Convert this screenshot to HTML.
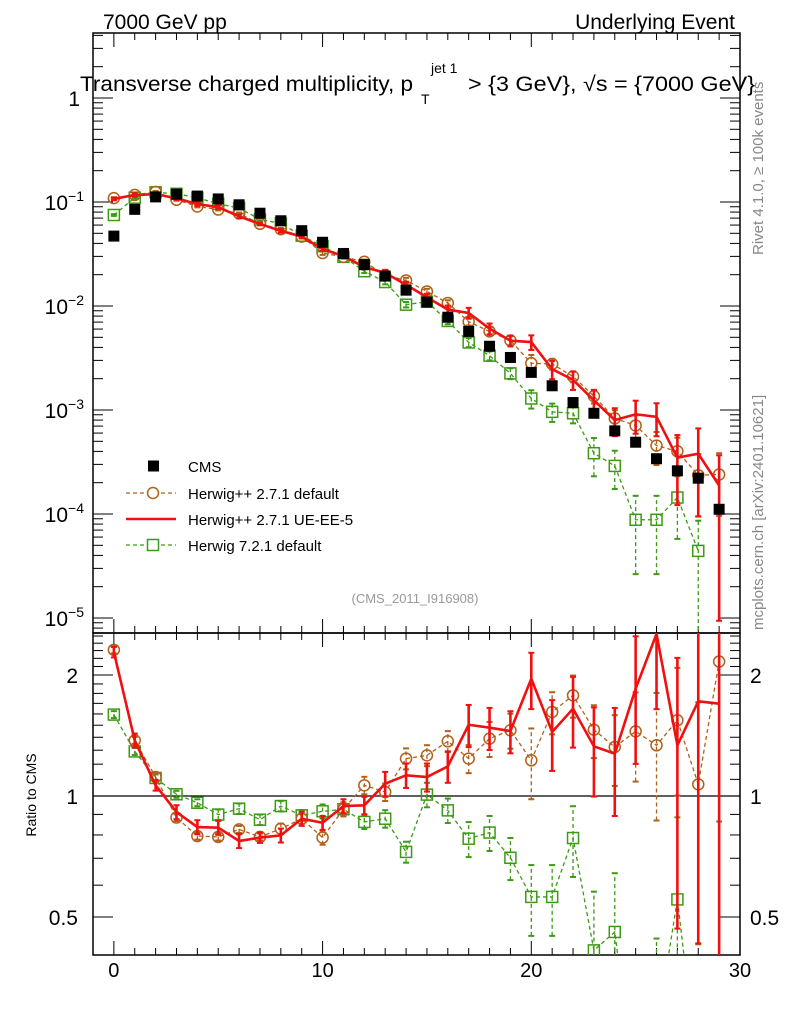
<!DOCTYPE html>
<html><head><meta charset="utf-8"><style>
html,body{margin:0;padding:0;background:#fff;width:786px;height:1024px;overflow:hidden;}
svg{display:block;font-family:"Liberation Sans",Arial,sans-serif;}
</style></head><body>
<svg id="chart" width="786" height="1024" viewBox="0 0 786 1024" xmlns="http://www.w3.org/2000/svg">
<text x="103" y="29" font-size="21">7000 GeV pp</text>
<text x="735" y="29" font-size="21" text-anchor="end">Underlying Event</text>
<text x="80" y="91" font-size="21" textLength="333" lengthAdjust="spacingAndGlyphs">Transverse charged multiplicity, p</text>
<text x="431" y="73" font-size="14">jet 1</text>
<text x="421" y="104" font-size="14">T</text>
<text x="468" y="91" font-size="21" textLength="287" lengthAdjust="spacingAndGlyphs">&gt; {3 GeV}, √s = {7000 GeV}</text>
<text transform="translate(763,255) rotate(-90)" font-size="15" fill="#888">Rivet 4.1.0, ≥ 100k events</text>
<text transform="translate(763,630) rotate(-90)" font-size="15" fill="#888">mcplots.cern.ch [arXiv:2401.10621]</text>
<text x="415" y="603" font-size="13" fill="#999" text-anchor="middle">(CMS_2011_I916908)</text>
<text transform="translate(36,795) rotate(-90)" font-size="14" text-anchor="middle">Ratio to CMS</text>
<g id="g"></g>
</svg>
<script>
const bins=[0,1,2,3,4,5,6,7,8,9,10,11,12,13,14,15,16,17,18,19,20,21,22,23,24,25,26,27,28,29];
const cms=[0.047,0.085,0.112,0.119,0.114,0.107,0.094,0.078,0.066,0.053,0.041,0.032,0.025,0.0194,0.0142,0.0109,0.0078,0.0057,0.0041,0.0032,0.0023,0.00171,0.00118,0.00093,0.00063,0.00049,0.00034,0.00026,0.000221,0.000111];
const hwDef=[0.109,0.117,0.125,0.105,0.0906,0.0846,0.0776,0.0617,0.0547,0.0465,0.0323,0.0297,0.0266,0.0198,0.0176,0.0138,0.0107,0.00706,0.0057,0.00466,0.00282,0.00277,0.0021,0.00136,0.00083,0.00071,0.000455,0.000401,0.000236,0.00024];
const hwUE=[0.107,0.117,0.119,0.1085,0.0954,0.0892,0.0727,0.0615,0.0527,0.0465,0.0352,0.0302,0.0237,0.0208,0.016,0.01215,0.00924,0.00857,0.00606,0.00464,0.0045,0.00247,0.00195,0.00124,0.0008,0.00091,0.00086,0.000348,0.00038,0.000188];
const hw7=[0.075,0.11,0.124,0.12,0.11,0.096,0.0874,0.068,0.0623,0.0474,0.0376,0.0297,0.0216,0.017,0.0103,0.011,0.00718,0.00446,0.00333,0.00225,0.00129,0.00096,0.00093,0.000384,0.00029,0.000088,0.000088,0.000144,0.0000442,null];
const rDef=[2.31,1.375,1.115,0.884,0.795,0.791,0.826,0.791,0.829,0.878,0.788,0.927,1.063,1.023,1.239,1.262,1.368,1.239,1.389,1.457,1.227,1.618,1.78,1.462,1.324,1.448,1.337,1.543,1.069,2.16];
const rUE=[2.28,1.375,1.063,0.912,0.837,0.834,0.773,0.788,0.798,0.878,0.858,0.944,0.948,1.073,1.126,1.115,1.185,1.504,1.479,1.451,1.958,1.443,1.649,1.329,1.274,1.849,2.53,1.337,1.72,1.697];
const r7=[1.594,1.291,1.109,1.01,0.962,0.899,0.93,0.873,0.944,0.895,0.916,0.927,0.862,0.878,0.726,1.008,0.921,0.783,0.811,0.702,0.561,0.561,0.786,0.413,0.459,0.18,0.26,0.553,0.2,null];
const eDef=[0.02,0.02,0.02,0.02,0.02,0.02,0.02,0.02,0.03,0.03,0.04,0.04,0.05,0.05,0.06,0.06,0.06,0.08,0.1,0.1,0.2,0.12,0.12,0.15,0.2,0.25,0.35,0.35,0.6,0.6];
const eUE=[0.03,0.04,0.03,0.04,0.04,0.04,0.04,0.03,0.04,0.04,0.04,0.04,0.05,0.07,0.07,0.08,0.09,0.12,0.12,0.12,0.16,0.2,0.2,0.25,0.3,0.35,0.35,0.65,0.75,0.95];
const e7=[0.02,0.02,0.02,0.02,0.02,0.03,0.03,0.03,0.03,0.03,0.04,0.04,0.04,0.05,0.06,0.07,0.07,0.1,0.1,0.12,0.2,0.2,0.2,0.4,0.4,0.7,0.7,0.6,0.95,0];
const mainTicks=["1","10^-1","10^-2","10^-3","10^-4","10^-5"];
const ratioTicks=[2,1,0.5];
const xTicks=[0,10,20,30];

const NS="http://www.w3.org/2000/svg";
const g=document.getElementById('g');
const L=93,R=740,T=33,M=633,B=955;
const X=v=>L+(v+1)*(R-L)/31;
const Ym=v=>98-Math.log10(v)*104;
const Yr=v=>796-Math.log10(v)*402;
function el(tag,attrs,parent){const e=document.createElementNS(NS,tag);for(const k in attrs)e.setAttribute(k,attrs[k]);(parent||g).appendChild(e);return e;}
const clipM=el('clipPath',{id:'cm'});el('rect',{x:L,y:T,width:R-L,height:M-T},clipM);
const clipR=el('clipPath',{id:'cr'});el('rect',{x:L,y:M,width:R-L,height:B-M},clipR);
let f1=el('rect',{x:L,y:T,width:R-L,height:M-T,fill:'none',stroke:'#000','stroke-width':1.5});


let f2=el('rect',{x:L,y:M,width:R-L,height:B-M,fill:'none',stroke:'#000','stroke-width':1.5});


for(let i=-1;i<=30;i++){const x=X(i);const len=(i%10===0)?14:7;
 for(const [y0,d] of [[T,1],[M,-1],[M,1],[B,-1]]) el('line',{x1:x,x2:x,y1:y0,y2:y0+d*len,stroke:'#000','stroke-width':1});}
xTicks.forEach(v=>{const t=el('text',{x:X(v),y:977,'font-size':20,'text-anchor':'middle'});t.textContent=v;
 
 });
for(let d=-6;d<=0;d++){for(let m=1;m<10;m++){const v=m*Math.pow(10,d);const y=Ym(v);if(y<T||y>M)continue;const len=m===1?20:10;
 el('line',{x1:L,x2:L+len,y1:y,y2:y,stroke:'#000'});el('line',{x1:R,x2:R-len,y1:y,y2:y,stroke:'#000'});}}
mainTicks.forEach((s,i)=>{const y=Ym(Math.pow(10,-i));const t=el('text',{x:80,y:y+8,'font-size':21,'text-anchor':'end'});
 
 
 if(i===0)t.textContent='1';else{t.textContent='10';const ts=el('tspan',{dy:-9,'font-size':14},t);ts.textContent='−'+i;t.setAttribute('x',84);}});
[0.4,0.5,0.6,0.7,0.8,0.9,1,1.1,1.2,1.3,1.4,1.5,1.6,1.7,1.8,1.9,2,2.1,2.2,2.3,2.4,2.5].forEach(v=>{const y=Yr(v);if(y<M||y>B)return;const len=(v===0.5||v===1||v===2)?20:10;
 el('line',{x1:L,x2:L+len,y1:y,y2:y,stroke:'#000'});el('line',{x1:R,x2:R-len,y1:y,y2:y,stroke:'#000'});});
ratioTicks.forEach(v=>{const y=Yr(v);
 const t=el('text',{x:78,y:y+8,'font-size':21,'text-anchor':'end'});t.textContent=v;
 
 
 const t2=el('text',{x:750,y:y+8,'font-size':21});t2.textContent=v;
 
 });
el('line',{x1:L,x2:R,y1:Yr(1),y2:Yr(1),stroke:'#000','stroke-width':1.2});

function series(vals,errs,Y,clip,color,dash,width,marker,name){
 const grp=el('g',{'clip-path':'url(#'+clip+')'});
 
 
 let pts=[];bins.forEach((b,i)=>{if(vals[i]!=null)pts.push(X(b)+','+Y(vals[i]));});
 const pl=el('polyline',{points:pts.join(' '),fill:'none',stroke:color,'stroke-width':width},grp);
 if(dash)pl.setAttribute('stroke-dasharray',dash);
 bins.forEach((b,i)=>{const v=vals[i];if(v==null)return;const x=X(b);const e=errs[i];
  const lo=Math.max(v*(1-e),1e-9),hi=v*(1+e);
  const ln=el('line',{x1:x,x2:x,y1:Math.min(Y(lo),1100),y2:Y(hi),stroke:color,'stroke-width':width},grp);if(dash)ln.setAttribute('stroke-dasharray',dash);
  el('line',{x1:x-3,x2:x+3,y1:Y(lo),y2:Y(lo),stroke:color,'stroke-width':2},grp);
  el('line',{x1:x-3,x2:x+3,y1:Y(hi),y2:Y(hi),stroke:color,'stroke-width':2},grp);
  const y=Y(v);
  if(marker==='circle')el('circle',{cx:x,cy:y,r:5.5,fill:'none',stroke:color,'stroke-width':1.5},grp);
  if(marker==='square')el('rect',{x:x-5.5,y:y-5.5,width:11,height:11,fill:'none',stroke:color,'stroke-width':1.5},grp);
 });
}
const brown='#b0601a',green='#3c9a14',red='#f01010';
series(hw7,e7,Ym,'cm',green,'4,3',1.3,'square','herwig721-main');
series(hwDef,eDef,Ym,'cm',brown,'4,3',1.3,'circle','herwigpp-default-main');
series(hwUE,eUE,Ym,'cm',red,null,2.6,null,'herwigpp-ueee5-main');
const cg=el('g',{'clip-path':'url(#cm)'});


bins.forEach((b,i)=>{el('rect',{x:X(b)-5.5,y:Ym(cms[i])-5.5,width:11,height:11,fill:'#000'},cg);});
series(r7,e7,Yr,'cr',green,'4,3',1.3,'square','herwig721-ratio');
series(rDef,eDef,Yr,'cr',brown,'4,3',1.3,'circle','herwigpp-default-ratio');
series(rUE,eUE,Yr,'cr',red,null,2.6,null,'herwigpp-ueee5-ratio');
const leg=el('g',{});


const ly=[466,493,519,545],labels=['CMS','Herwig++ 2.7.1 default','Herwig++ 2.7.1 UE-EE-5','Herwig 7.2.1 default'];
el('rect',{x:148,y:ly[0]-5.5,width:11,height:11,fill:'#000'},leg);
el('line',{x1:126,x2:176,y1:ly[1],y2:ly[1],stroke:brown,'stroke-width':1.3,'stroke-dasharray':'4,3'},leg);
el('circle',{cx:153,cy:ly[1],r:5.5,fill:'#fff',stroke:brown,'stroke-width':1.5},leg);
el('line',{x1:126,x2:176,y1:ly[2],y2:ly[2],stroke:red,'stroke-width':2.6},leg);
el('line',{x1:126,x2:176,y1:ly[3],y2:ly[3],stroke:green,'stroke-width':1.3,'stroke-dasharray':'4,3'},leg);
el('rect',{x:147.5,y:ly[3]-5.5,width:11,height:11,fill:'#fff',stroke:green,'stroke-width':1.5},leg);
labels.forEach((s,i)=>{const t=el('text',{x:188,y:ly[i]+6,'font-size':15},leg);t.textContent=s;
 
 });
</script>
</body></html>
